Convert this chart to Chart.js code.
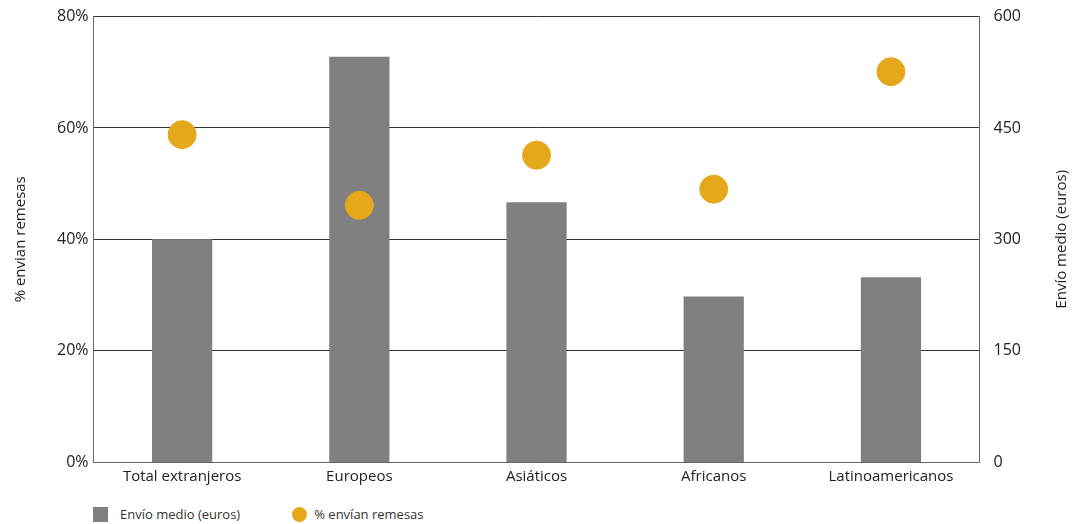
<!DOCTYPE html>
<html>
<head>
<meta charset="utf-8">
<script src="https://cdn.jsdelivr.net/npm/chart.js@4/dist/chart.umd.min.js"></script>
<style>
  html, body { margin: 0; padding: 0; background: #fff; overflow: hidden; }
  #wrap { width: 1073px; height: 500px; position: relative; top: -7px; }
  #legend {
    position: absolute; left: 93px; top: 505px;
    font-family: 'Open Sans', 'Noto Sans', sans-serif; font-size: 13px; color: #333;
    display: flex; align-items: center;
  }
  .item { display: flex; align-items: center; margin-right: 52px; }
  .swatch { width: 15px; height: 15px; margin-right: 12px; }
  .sq { background: #808080; }
  .dot { background: #E5A81B; border-radius: 50%; margin-right: 7px; }
</style>
</head>
<body>
<div id="wrap"><canvas id="chart"></canvas></div>
<div id="legend">
  <div class="item"><span class="swatch sq"></span>Envío medio (euros)</div>
  <div class="item"><span class="swatch dot"></span>% envían remesas</div>
</div>
<script>
// data
const categories = ['Total extranjeros', 'Europeos', 'Asiáticos', 'Africanos', 'Latinoamericanos'];
const envioMedio = [300, 546, 350, 223, 249];      // euros, right axis
const pctRemesas = [58.8, 46.1, 55.1, 49.0, 70.1]; // %, left axis
const leftTicks = [0, 20, 40, 60, 80];
const rightTicks = [0, 150, 300, 450, 600];

const FONT = "'Open Sans', 'Noto Sans', sans-serif";

// right axis title reads bottom-to-top, so draw it by hand
const rightTitle = {
  id: 'rightTitle',
  afterDraw(chart) {
    const ctx = chart.ctx;
    const area = chart.chartArea;
    ctx.save();
    ctx.translate(1062, (area.top + area.bottom) / 2);
    ctx.rotate(-Math.PI / 2);
    ctx.font = "15px " + FONT;
    ctx.fillStyle = '#222';
    ctx.textAlign = 'center';
    ctx.textBaseline = 'middle';
    ctx.fillText('Envío medio (euros)', 0, 0);
    ctx.restore();
  }
};

new Chart(document.getElementById('chart').getContext('2d'), {
  data: {
    labels: categories,
    datasets: [
      {
        type: 'scatter',
        label: '% envían remesas',
        data: pctRemesas,
        yAxisID: 'yLeft',
        backgroundColor: '#E5A81B',
        borderColor: '#E5A81B',
        pointRadius: 14,
        pointHoverRadius: 14,
        order: 0
      },
      {
        type: 'bar',
        label: 'Envío medio (euros)',
        data: envioMedio,
        yAxisID: 'yRight',
        backgroundColor: '#808080',
        categoryPercentage: 1,
        barPercentage: 0.34,
        order: 1
      }
    ]
  },
  options: {
    responsive: true,
    maintainAspectRatio: false,
    animation: false,
    layout: { padding: { left: 8, right: 38, top: 0, bottom: 1 } },
    plugins: {
      tooltip: { enabled: false },
      legend: { display: false }
    },
    scales: {
      x: {
        type: 'category',
        offset: true,
        grid: { display: false, drawTicks: false },
        border: { color: '#666', width: 1 },
        ticks: { color: '#222', padding: 6, font: { family: FONT, size: 15 } }
      },
      yLeft: {
        position: 'left',
        min: 0,
        max: 80,
        afterBuildTicks: axis => { axis.ticks = leftTicks.map(v => ({ value: v })); },
        grid: { color: '#333', drawTicks: false },
        border: { color: '#666', width: 1 },
        ticks: {
          color: '#222',
          padding: 5,
          font: { family: FONT, size: 16 },
          callback: v => v + '%'
        },
        title: {
          display: true,
          text: '% envian remesas',
          color: '#222',
          font: { family: FONT, size: 15 },
          padding: { bottom: 22 }
        }
      },
      yRight: {
        position: 'right',
        min: 0,
        max: 600,
        afterBuildTicks: axis => { axis.ticks = rightTicks.map(v => ({ value: v })); },
        grid: { display: false, drawTicks: false },
        border: { color: '#666', width: 1 },
        ticks: {
          color: '#222',
          padding: 14,
          font: { family: FONT, size: 16 }
        }
      }
    }
  },
  plugins: [rightTitle]
});
</script>
</body>
</html>
